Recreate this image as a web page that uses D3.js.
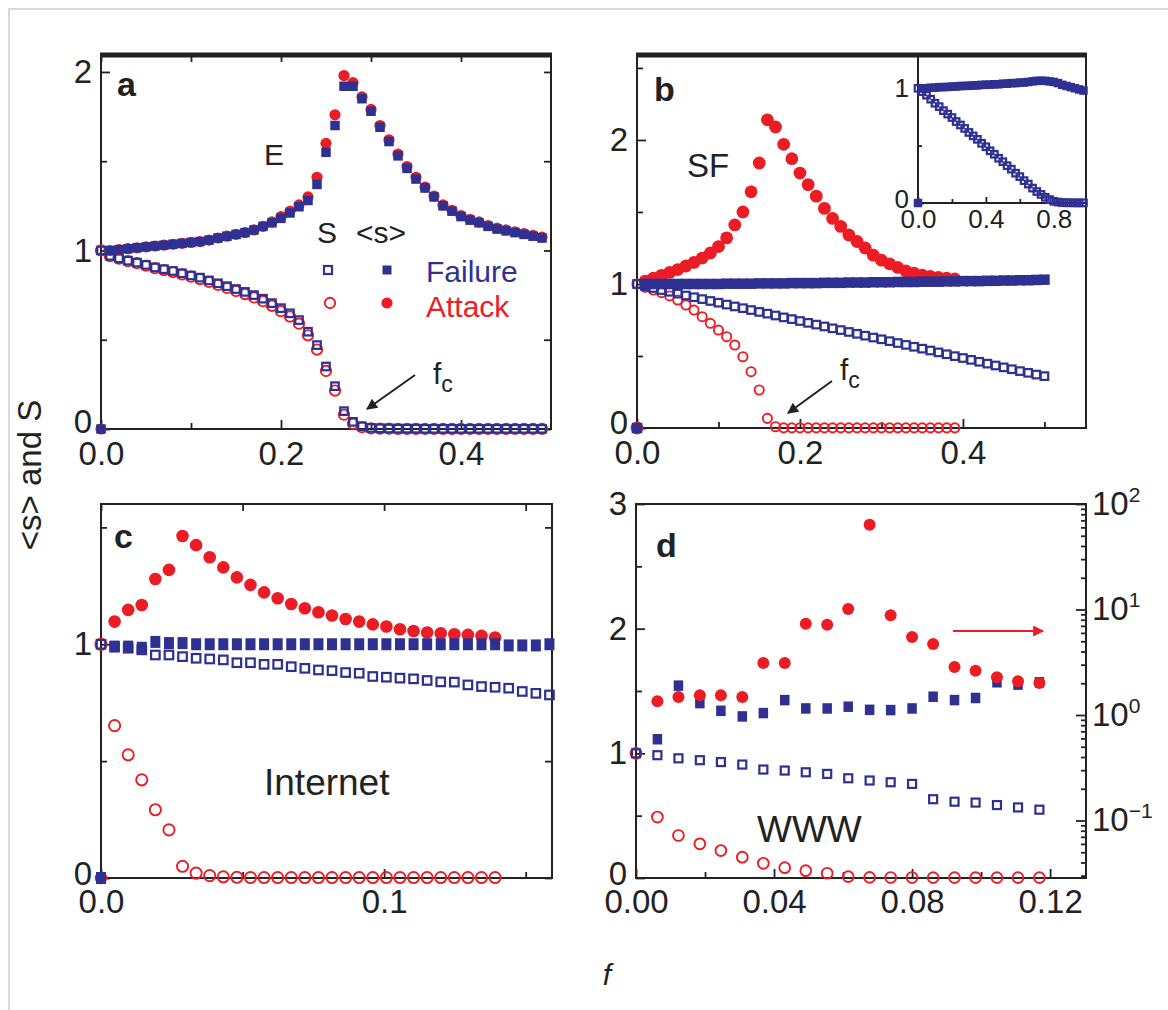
<!DOCTYPE html>
<html>
<head>
<meta charset="utf-8">
<script src="https://cdn.jsdelivr.net/npm/d3@7"></script>
<style>
  body { margin: 0; background: #fff; }
  text { font-family: "Liberation Sans", Arial, Helvetica, sans-serif; }
</style>
</head>
<body>
<svg id="chart" width="1168" height="1010"></svg>
<script>
// ---- data ----
// panel a : random (E) network, f step 0.01
const fA = [0,0.01,0.02,0.03,0.04,0.05,0.06,0.07,0.08,0.09,0.10,0.11,0.12,0.13,0.14,0.15,0.16,0.17,0.18,0.19,
  0.20,0.21,0.22,0.23,0.24,0.25,0.26,0.27,0.28,0.29,0.30,0.31,0.32,0.33,0.34,0.35,0.36,0.37,0.38,0.39,
  0.40,0.41,0.42,0.43,0.44,0.45,0.46,0.47,0.48,0.49]
const sizeFailA = [0,1.0,1.005,1.01,1.015,1.02,1.025,1.03,1.035,1.04,1.045,1.05,1.058,1.07,1.08,1.09,1.1,1.115,1.135,1.155,
  1.18,1.21,1.245,1.28,1.37,1.55,1.70,1.92,1.92,1.85,1.78,1.69,1.61,1.53,1.46,1.40,1.35,1.30,1.25,1.22,
  1.19,1.17,1.155,1.135,1.12,1.11,1.1,1.09,1.08,1.07]
const sizeAttA = [0,1.0,1.005,1.01,1.015,1.02,1.025,1.03,1.035,1.04,1.045,1.05,1.058,1.07,1.08,1.09,1.1,1.115,1.135,1.16,
  1.19,1.22,1.255,1.30,1.41,1.60,1.76,1.98,1.94,1.86,1.79,1.70,1.62,1.54,1.47,1.41,1.355,1.305,1.255,1.225,
  1.195,1.175,1.16,1.14,1.125,1.115,1.105,1.095,1.085,1.075]
const giantFailA = [1.0,0.97,0.956,0.943,0.932,0.919,0.905,0.895,0.885,0.872,0.86,0.848,0.832,0.816,0.80,0.784,0.768,0.75,0.73,0.705,
  0.677,0.648,0.61,0.545,0.47,0.35,0.24,0.10,0.04,0.015,0.006,0.004,0.003,0.002,0.002,0.002,0.001,0.001,0.001,0.001,
  0.001,0.001,0.001,0.001,0.001,0.001,0.001,0.001,0.001,0.001]
const giantAttA = [1.0,0.968,0.954,0.94,0.929,0.915,0.901,0.89,0.879,0.866,0.853,0.84,0.824,0.807,0.79,0.773,0.756,0.737,0.716,0.69,
  0.66,0.63,0.59,0.525,0.445,0.325,0.215,0.08,0.03,0.01,0.004,0.002,0.002,0.001,0.001,0.001,0.001,0.001,0.001,0.001,
  0.001,0.001,0.001,0.001,0.001,0.001,0.001,0.001,0.001,0.001]

// panel b : scale-free (SF) network, f step 0.01
const fB = [0,0.01,0.02,0.03,0.04,0.05,0.06,0.07,0.08,0.09,0.10,0.11,0.12,0.13,0.14,0.15,0.16,0.17,0.18,0.19,
  0.20,0.21,0.22,0.23,0.24,0.25,0.26,0.27,0.28,0.29,0.30,0.31,0.32,0.33,0.34,0.35,0.36,0.37,0.38,0.39,
  0.40,0.41,0.42,0.43,0.44,0.45,0.46,0.47,0.48,0.49,0.50]
const sizeFailB = [0,1.0,1.0,1.0,1.0,1.0,1.0,1.0,1.0,1.0,1.0,1.002,1.002,1.002,1.002,1.004,1.004,1.004,1.004,1.006,
  1.006,1.006,1.006,1.008,1.008,1.008,1.01,1.01,1.01,1.012,1.012,1.012,1.014,1.014,1.014,1.016,1.016,1.016,1.018,1.018,
  1.02,1.02,1.02,1.022,1.022,1.024,1.024,1.026,1.026,1.028,1.03]
const giantFailB = [1.0,0.985,0.972,0.958,0.946,0.933,0.92,0.908,0.895,0.882,0.87,0.857,0.844,0.832,0.819,0.806,0.794,0.781,0.768,0.756,
  0.743,0.73,0.718,0.705,0.692,0.68,0.667,0.654,0.641,0.628,0.616,0.603,0.59,0.577,0.564,0.551,0.538,0.525,0.512,0.499,
  0.486,0.473,0.46,0.447,0.434,0.421,0.408,0.395,0.383,0.371,0.36]
const sizeAttB = [0,1.02,1.04,1.06,1.08,1.1,1.125,1.15,1.18,1.215,1.26,1.32,1.41,1.5,1.64,1.84,2.14,2.09,1.97,1.87,
  1.77,1.69,1.61,1.525,1.455,1.4,1.34,1.295,1.25,1.2,1.165,1.14,1.115,1.09,1.075,1.062,1.052,1.045,1.04,1.035]
const giantAttB = [1.0,0.977,0.958,0.94,0.917,0.889,0.854,0.819,0.773,0.727,0.68,0.634,0.576,0.495,0.391,0.264,0.067,0.009,0.001,0.001,
  0.001,0.001,0.001,0.001,0.001,0.001,0.001,0.001,0.001,0.001,0.001,0.001,0.001,0.001,0.001,0.001,0.001,0.001,0.001,0.001]

// inset of b : failure up to f = 1
const fIn = [0,0.025,0.05,0.075,0.1,0.125,0.15,0.175,0.2,0.225,0.25,0.275,0.3,0.325,0.35,0.375,0.4,0.425,0.45,0.475,
  0.5,0.525,0.55,0.575,0.6,0.625,0.65,0.675,0.7,0.725,0.75,0.775,0.8,0.825,0.85,0.875,0.9,0.925,0.95,0.975]
const sizeIn = [0,1.0,1.0,1.005,1.005,1.01,1.01,1.012,1.015,1.015,1.02,1.02,1.022,1.025,1.025,1.03,1.03,1.032,1.035,1.035,
  1.04,1.04,1.045,1.045,1.05,1.05,1.055,1.06,1.065,1.065,1.065,1.06,1.055,1.045,1.03,1.02,1.01,1.0,0.99,0.98]
const giantIn = [1.0,0.97,0.94,0.905,0.87,0.84,0.805,0.775,0.745,0.71,0.68,0.65,0.615,0.585,0.555,0.52,0.49,0.455,0.425,0.39,
  0.36,0.325,0.295,0.26,0.23,0.195,0.165,0.13,0.1,0.075,0.05,0.03,0.015,0.008,0.004,0.002,0.002,0.001,0.001,0.001]

// panel c : Internet
const fC = [0,0.0048,0.0096,0.0144,0.0192,0.024,0.0288,0.0336,0.0384,0.0432,0.048,0.0528,0.0576,0.0624,0.0672,0.072,0.0768,
  0.0816,0.0864,0.0912,0.096,0.1008,0.1056,0.1104,0.1152,0.12,0.1248,0.1296,0.1344,0.1392,0.144,0.1488,0.1536,0.1584]
const sizeFailC = [0,0.99,0.99,0.985,1.01,1.005,1.005,1.0,1.0,1.0,1.0,1.0,1.0,1.0,1.0,1.0,1.0,
  1.0,1.0,1.0,1.0,1.0,1.0,1.0,1.0,1.0,1.0,1.0,1.0,1.0,0.995,0.995,0.995,1.0]
const giantFailC = [1.0,0.99,0.983,0.976,0.954,0.954,0.947,0.94,0.937,0.933,0.921,0.921,0.914,0.914,0.904,0.897,0.89,
  0.887,0.879,0.876,0.862,0.859,0.855,0.852,0.845,0.839,0.838,0.826,0.819,0.816,0.812,0.798,0.79,0.783]
const sizeAttC = [0,1.097,1.147,1.168,1.279,1.318,1.463,1.424,1.372,1.329,1.286,1.254,1.222,1.197,1.172,1.154,1.137,
  1.123,1.108,1.097,1.085,1.076,1.064,1.057,1.05,1.047,1.043,1.04,1.036,1.029]
const giantAttC = [1.0,0.652,0.527,0.42,0.292,0.206,0.05,0.021,0.01,0.005,0.003,0.002,0.002,0.002,0.002,0.002,0.002,
  0.002,0.002,0.002,0.002,0.002,0.002,0.002,0.002,0.002,0.002,0.002,0.002,0.002]

// panel d : WWW (attack <s> is on the right, log axis)
const fD = [0,0.0062,0.0123,0.0185,0.0246,0.0308,0.0369,0.0431,0.0492,0.0554,0.0615,0.0677,0.0738,0.08,0.0861,0.0923,0.0984,0.1046,0.1107,0.1169]
const sizeFailD = [null,1.113,1.543,1.403,1.341,1.296,1.323,1.427,1.36,1.36,1.374,1.349,1.347,1.36,1.454,1.427,1.444,1.57,1.551,1.57]
const giantFailD = [1.0,0.985,0.96,0.945,0.93,0.91,0.87,0.862,0.848,0.835,0.8,0.782,0.768,0.755,0.632,0.612,0.605,0.585,0.566,0.548]
const sizeAttD = [null,1.35,1.48,1.54,1.54,1.48,3.11,3.11,7.34,7.18,10.1,63.6,8.81,5.49,4.71,2.85,2.63,2.28,2.09,2.01]
const giantAttD = [1.0,0.489,0.341,0.274,0.22,0.167,0.118,0.083,0.059,0.038,0.011,0.005,0.004,0.004,0.003,0.003,0.003,0.003,0.003,0.003]

const blue = "#2e3192"
const red = "#ec1c24"
const ink = "#222"

const svg = d3.select("#chart")

// light page frame
svg.append("path").attr("d", "M9,1010V9H1168").attr("fill", "none").attr("stroke", "#d9d9d9").attr("stroke-width", 2)

// axis helper: ticks point into the plot
function axis(gp, ax, tr, size, labels, pad) {
  const a = gp.append("g").attr("transform", tr).call(ax.tickSize(-size).tickPadding(pad || 8))
  a.select(".domain").remove()
  a.selectAll("line").attr("stroke", ink).attr("stroke-width", 1.8)
  a.selectAll("text").attr("font-size", labels || 33).attr("fill", ink)
  return a
}

function panel(o) {
  const gp = svg.append("g")
  const x = d3.scaleLinear().domain(o.xd).range([o.l, o.r])
  const y = d3.scaleLinear().domain(o.yd).range([o.b, o.t])
  axis(gp, d3.axisBottom(x).tickValues(o.xt).tickFormat(d3.format(o.xf)), `translate(0,${o.b})`, 9, 33, o.xpad || 9)
  axis(gp, d3.axisBottom(x).tickValues(o.xm).tickFormat(""), `translate(0,${o.b})`, 6)
  const yl = axis(gp, d3.axisLeft(y).tickValues(o.yt).tickFormat(d3.format("d")), `translate(${o.l},0)`, 9, 33, 9)
  if (o.zeroUp) yl.selectAll("text").filter(d => d === 0).attr("y", -o.zeroUp)
  axis(gp, d3.axisLeft(y).tickValues(o.ym).tickFormat(""), `translate(${o.l},0)`, 6)
  if (o.top) axis(gp, d3.axisTop(x).tickValues(o.xt.concat(o.xm)).tickFormat(""), `translate(0,${o.t})`, 7)
  if (o.right) axis(gp, d3.axisRight(y).tickValues(o.yt.concat(o.ym)).tickFormat(""), `translate(${o.r},0)`, 7)
  gp.append("rect").attr("x", o.l).attr("y", o.t).attr("width", o.r - o.l).attr("height", o.b - o.t)
    .attr("fill", "none").attr("stroke", ink).attr("stroke-width", 2)
  if (o.thickTop) gp.append("line").attr("x1", o.l - 1).attr("x2", o.r + 1).attr("y1", o.t).attr("y2", o.t)
    .attr("stroke", ink).attr("stroke-width", 5)
  return { g: gp, x, y }
}

function pts(fs, vs) { return d3.zip(fs, vs).filter(d => d[1] != null) }

function openSq(p, fs, vs, s, y) {
  y = y || p.y
  p.g.append("g").selectAll("rect").data(pts(fs, vs)).join("rect")
    .attr("x", d => p.x(d[0]) - s / 2).attr("y", d => y(d[1]) - s / 2)
    .attr("width", s).attr("height", s)
    .attr("fill", "none").attr("stroke", blue).attr("stroke-width", 2.2)
}
function fillSq(p, fs, vs, w, y, h) {
  y = y || p.y
  h = h || w
  p.g.append("g").selectAll("rect").data(pts(fs, vs)).join("rect")
    .attr("x", d => p.x(d[0]) - w / 2).attr("y", d => y(d[1]) - h / 2)
    .attr("width", w).attr("height", h).attr("fill", blue)
}
function openCi(p, fs, vs, r, y) {
  y = y || p.y
  p.g.append("g").selectAll("circle").data(pts(fs, vs)).join("circle")
    .attr("cx", d => p.x(d[0])).attr("cy", d => y(d[1])).attr("r", r)
    .attr("fill", "none").attr("stroke", red).attr("stroke-width", 1.9)
}
function fillCi(p, fs, vs, r, y) {
  y = y || p.y
  p.g.append("g").selectAll("circle").data(pts(fs, vs)).join("circle")
    .attr("cx", d => p.x(d[0])).attr("cy", d => y(d[1])).attr("r", r).attr("fill", red)
}

function label(txt, x, y, size, opts) {
  opts = opts || {}
  return svg.append("text").attr("x", x).attr("y", y).attr("font-size", size)
    .attr("font-weight", opts.bold ? "bold" : null).attr("fill", opts.color || ink)
    .attr("font-style", opts.italic ? "italic" : null)
    .attr("text-anchor", opts.anchor || "start").text(txt)
}

function fc(x, y) {
  const t = label("f", x, y, 30)
  t.append("tspan").attr("font-size", 23).attr("dy", 8).text("c")
}

// arrowheads
const defs = svg.append("defs")
;[["headK", ink], ["headR", red]].forEach(([id, c]) => {
  defs.append("marker").attr("id", id).attr("viewBox", "0 0 10 10").attr("refX", 9).attr("refY", 5)
    .attr("orient", "auto").attr("markerUnits", "userSpaceOnUse")
    .attr("markerWidth", 16).attr("markerHeight", 11)
    .append("path").attr("d", "M0,0L10,5L0,10z").attr("fill", c)
})
function arrow(x1, y1, x2, y2, c, id) {
  svg.append("line").attr("x1", x1).attr("y1", y1).attr("x2", x2).attr("y2", y2)
    .attr("stroke", c).attr("stroke-width", 2).attr("marker-end", `url(#${id})`)
}

// ---- panel a ----
const pa = panel({ l: 101, r: 551, t: 55, b: 429, xd: [0, 0.5], yd: [0, 2.095], xpad: 13, zeroUp: 7,
  xt: [0, 0.2, 0.4], xm: [0.1, 0.3], xf: ".1f", yt: [0, 1, 2], ym: [0.5, 1.5], top: true, right: true, thickTop: true })
openCi(pa, fA, giantAttA, 5.2)
openSq(pa, fA, giantFailA, 7.5)
fillCi(pa, fA, sizeAttA, 5.6)
fillSq(pa, fA, sizeFailA, 9.5)

label("a", 117, 96, 34, { bold: true })
label("E", 264, 165, 30)
label("S", 317, 243, 30)
label("<s>", 356, 243, 30)
label("Failure", 426, 282, 30, { color: blue })
label("Attack", 426, 317, 30, { color: red })
svg.append("rect").attr("x", 324).attr("y", 266).attr("width", 8).attr("height", 8)
  .attr("fill", "none").attr("stroke", blue).attr("stroke-width", 2.2)
svg.append("rect").attr("x", 382.5).attr("y", 265.5).attr("width", 9).attr("height", 9).attr("fill", blue)
svg.append("circle").attr("cx", 330).attr("cy", 303).attr("r", 5.2).attr("fill", "none").attr("stroke", red).attr("stroke-width", 1.9)
svg.append("circle").attr("cx", 387).attr("cy", 303).attr("r", 5.6).attr("fill", red)
fc(433, 384)
arrow(415, 375, 367, 409, ink, "headK")

// ---- panel b ----
const pb = panel({ l: 637, r: 1086, t: 55, b: 428, xd: [0, 0.551], yd: [0, 2.59], xpad: 13, zeroUp: 5,
  xt: [0, 0.2, 0.4], xm: [0.1, 0.3, 0.5], xf: ".1f", yt: [0, 1, 2], ym: [0.5, 1.5, 2.5], thickTop: true })
openCi(pb, fB.slice(0, giantAttB.length), giantAttB, 4.6)
fillCi(pb, fB.slice(0, sizeAttB.length), sizeAttB, 6.4)
fillSq(pb, fB, sizeFailB, 10.5)
openSq(pb, fB, giantFailB, 7.5)
label("b", 654, 101, 34, { bold: true })
label("SF", 687, 177, 33)
fc(840, 380)
arrow(832, 381, 788, 413, ink, "headK")

// inset in b
const ins = svg.append("g")
const xi = d3.scaleLinear().domain([0, 0.99]).range([918, 1086])
const yi = d3.scaleLinear().domain([0, 1.29]).range([203, 55])
axis(ins, d3.axisBottom(xi).tickValues([0, 0.4, 0.8]).tickFormat(d3.format(".1f")), "translate(0,203)", 6, 26, 7)
axis(ins, d3.axisBottom(xi).tickValues([0.2, 0.6]).tickFormat(""), "translate(0,203)", 4)
axis(ins, d3.axisLeft(yi).tickValues([0, 1]).tickFormat(d3.format("d")), "translate(918,0)", 6, 26, 9)
  .selectAll("text").filter(d => d === 0).attr("y", -4)
axis(ins, d3.axisLeft(yi).tickValues([0.5]).tickFormat(""), "translate(918,0)", 4)
ins.append("path").attr("d", "M918,55V203H1086").attr("fill", "none").attr("stroke", ink).attr("stroke-width", 2)
const pin = { g: ins, x: xi, y: yi }
openSq(pin, fIn, giantIn, 6.5)
fillSq(pin, fIn, sizeIn, 8.5)

// ---- panel c ----
const pc = panel({ l: 101, r: 552, t: 504, b: 878, xd: [0, 0.1593], yd: [0, 1.6], xpad: 12, zeroUp: 4,
  xt: [0, 0.1], xm: [0.05, 0.15], xf: ".1f", yt: [0, 1], ym: [0.5, 1.5], top: true, right: true })
openCi(pc, fC.slice(0, giantAttC.length), giantAttC, 5.6)
fillCi(pc, fC.slice(0, sizeAttC.length), sizeAttC, 6.3)
openSq(pc, fC, giantFailC, 8.5)
fillSq(pc, fC, sizeFailC, 10, null, 12)
label("c", 114, 548, 34, { bold: true })
label("Internet", 264, 795, 37)

// ---- panel d ----
const pd = panel({ l: 636, r: 1086, t: 504, b: 878, xd: [0, 0.1304], yd: [0, 3], xpad: 12, zeroUp: 4,
  xt: [0, 0.04, 0.08, 0.12], xm: [0.02, 0.06, 0.1], xf: ".2f", yt: [0, 1, 2, 3], ym: [0.5, 1.5, 2.5] })
const yLog = d3.scaleLog().domain([0.0285, 100]).range([878, 504])
const minor = []
;[0.01, 0.1, 1, 10].forEach(dec => [2, 3, 4, 5, 6, 7, 8, 9].forEach(m => {
  const v = dec * m
  if (v > 0.0285 && v < 100) minor.push(v)
}))
axis(pd.g, d3.axisRight(yLog).tickValues([0.1, 1, 10, 100]).tickFormat(""), "translate(1086,0)", 10)
axis(pd.g, d3.axisRight(yLog).tickValues(minor).tickFormat(""), "translate(1086,0)", 5)
;[[-1, 0.1], [0, 1], [1, 10], [2, 100]].forEach(([e, v]) => {
  const t = svg.append("text").attr("x", 1092).attr("y", yLog(v) + 11).attr("font-size", 33).attr("fill", ink).text("10")
  t.append("tspan").attr("font-size", 21).attr("dy", -13).text(e < 0 ? "\u2212" + (-e) : e)
})
openCi(pd, fD, giantAttD, 5.4)
openSq(pd, fD, giantFailD, 8)
fillSq(pd, fD, sizeFailD, 9.5, null, 10.5)
fillCi(pd, fD, sizeAttD, 6, yLog)
label("d", 656, 557, 34, { bold: true })
label("WWW", 757, 842, 37)
arrow(953, 631, 1043, 631, red, "headR")

// axis titles
label("f", 607, 985, 30, { italic: true, anchor: "middle" })
label("<s> and S", 0, 0, 33, { anchor: "middle" }).attr("transform", "translate(41,475) rotate(-90)")
</script>
</body>
</html>
